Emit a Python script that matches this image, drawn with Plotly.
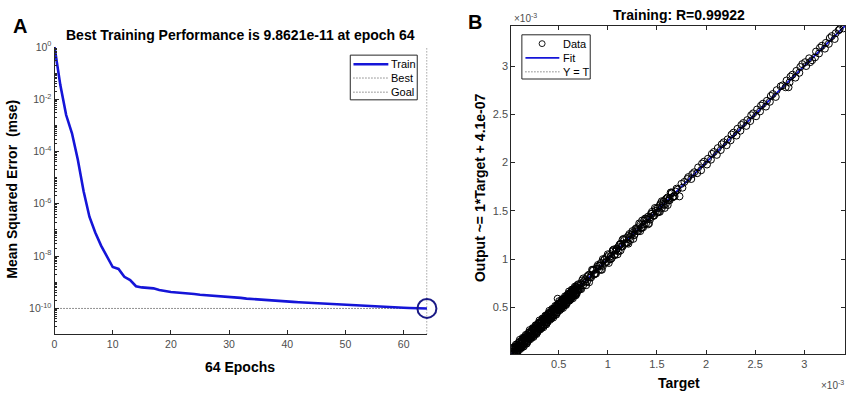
import plotly.graph_objects as go

W, H = 851, 396

# ---------------- Panel A data ----------------
epochs = list(range(65))
mse = [1.0, 3.5e-2, 2.5e-3, 5.0e-4, 5.0e-5, 3.0e-6, 3.2e-7, 8.0e-8, 2.5e-8, 1.0e-8,
       3.8e-9, 3.2e-9, 1.6e-9, 1.2e-9, 7.0e-10, 6.3e-10, 6.0e-10, 5.8e-10, 5.0e-10, 4.5e-10,
       4.2e-10, 4.0e-10, 3.9e-10, 3.7e-10, 3.5e-10, 3.3e-10, 3.2e-10, 3.1e-10, 3.0e-10, 2.9e-10,
       2.8e-10, 2.7e-10, 2.5e-10, 2.35e-10, 2.25e-10, 2.15e-10, 2.05e-10, 2.0e-10, 1.95e-10, 1.88e-10,
       1.82e-10, 1.76e-10, 1.7e-10, 1.65e-10, 1.6e-10, 1.55e-10, 1.5e-10, 1.46e-10, 1.42e-10, 1.38e-10,
       1.34e-10, 1.3e-10, 1.27e-10, 1.24e-10, 1.21e-10, 1.18e-10, 1.15e-10, 1.12e-10, 1.1e-10, 1.07e-10,
       1.05e-10, 1.03e-10, 1.01e-10, 0.995e-10, 9.8621e-11]
best_epoch = 64
best_perf = 9.8621e-11
a_yticks = [1e0, 1e-2, 1e-4, 1e-6, 1e-8, 1e-10]
a_yticktext = ["10<sup>0</sup>", "10<sup>-2</sup>", "10<sup>-4</sup>", "10<sup>-6</sup>",
               "10<sup>-8</sup>", "10<sup>-10</sup>"]
a_xticks = [0, 10, 20, 30, 40, 50, 60]

# ---------------- Panel B data (units of 1e-3) ----------------
target_low = [0.03, 0.04, 0.05, 0.06, 0.07, 0.08, 0.09, 0.10, 0.11, 0.12, 0.13, 0.14, 0.15, 0.16,
              0.17, 0.18, 0.19, 0.20, 0.21, 0.22, 0.23, 0.24, 0.25, 0.26, 0.27, 0.28, 0.29, 0.30,
              0.31, 0.32, 0.33, 0.34, 0.35, 0.36, 0.37, 0.38, 0.39, 0.40, 0.41, 0.42, 0.43, 0.44,
              0.45, 0.46, 0.47, 0.48, 0.49, 0.50, 0.51, 0.52, 0.53, 0.54, 0.55, 0.56, 0.57, 0.58,
              0.59, 0.60, 0.61, 0.62, 0.63, 0.64, 0.65, 0.66, 0.67, 0.68, 0.69, 0.70]
output_low_a = [0.06, 0.02, 0.09, 0.06, 0.04, 0.10, 0.13, 0.09, 0.07, 0.15, 0.16, 0.11, 0.18, 0.16,
                0.13, 0.20, 0.23, 0.18, 0.17, 0.25, 0.26, 0.21, 0.28, 0.26, 0.23, 0.31, 0.33, 0.28,
                0.27, 0.35, 0.36, 0.31, 0.38, 0.36, 0.33, 0.41, 0.43, 0.38, 0.37, 0.45, 0.46, 0.41,
                0.48, 0.46, 0.43, 0.51, 0.53, 0.48, 0.47, 0.55, 0.56, 0.51, 0.58, 0.56, 0.53, 0.61,
                0.63, 0.58, 0.57, 0.65, 0.66, 0.61, 0.68, 0.66, 0.63, 0.71, 0.73, 0.68]
output_low_b = [0.04, 0.08, 0.03, 0.08, 0.09, 0.05, 0.10, 0.14, 0.09, 0.12, 0.12, 0.18, 0.12, 0.19,
                0.18, 0.15, 0.19, 0.24, 0.20, 0.21, 0.22, 0.28, 0.22, 0.29, 0.28, 0.25, 0.29, 0.34,
                0.30, 0.31, 0.32, 0.38, 0.32, 0.39, 0.38, 0.35, 0.39, 0.44, 0.40, 0.41, 0.42, 0.48,
                0.42, 0.49, 0.48, 0.45, 0.49, 0.54, 0.50, 0.51, 0.52, 0.58, 0.52, 0.59, 0.58, 0.55,
                0.59, 0.64, 0.60, 0.61, 0.62, 0.68, 0.62, 0.69, 0.68, 0.65, 0.69, 0.74]
target_low2 = [0.035, 0.045, 0.055, 0.065, 0.075, 0.085, 0.095, 0.105, 0.115, 0.125, 0.135, 0.145,
               0.155, 0.165, 0.175, 0.185, 0.195, 0.205, 0.215, 0.225, 0.235, 0.245, 0.255, 0.265,
               0.275, 0.285, 0.295, 0.305, 0.315, 0.325, 0.335, 0.345, 0.355, 0.365, 0.375, 0.385,
               0.395, 0.405, 0.415, 0.425, 0.435, 0.445, 0.455, 0.465, 0.475, 0.485, 0.495, 0.505,
               0.515, 0.525, 0.535, 0.545, 0.555, 0.565, 0.575, 0.585, 0.595, 0.605, 0.615, 0.625,
               0.635, 0.645, 0.655, 0.665, 0.675, 0.685, 0.695]
output_low_c = [0.085, 0.020, 0.065, 0.045, 0.115, 0.045, 0.095, 0.165, 0.085, 0.145, 0.185, 0.095,
                0.165, 0.145, 0.215, 0.145, 0.195, 0.265, 0.185, 0.245, 0.285, 0.195, 0.265, 0.245,
                0.315, 0.245, 0.295, 0.365, 0.285, 0.345, 0.385, 0.295, 0.365, 0.345, 0.415, 0.345,
                0.395, 0.465, 0.385, 0.445, 0.485, 0.395, 0.465, 0.445, 0.515, 0.445, 0.495, 0.565,
                0.485, 0.545, 0.585, 0.495, 0.565, 0.545, 0.615, 0.545, 0.595, 0.665, 0.585, 0.645,
                0.685, 0.595, 0.665, 0.645, 0.715, 0.645, 0.695]
output_low_d = [0.025, 0.075, 0.045, 0.115, 0.025, 0.105, 0.075, 0.145, 0.125, 0.085, 0.105, 0.175,
                0.145, 0.215, 0.125, 0.205, 0.175, 0.245, 0.225, 0.185, 0.205, 0.275, 0.245, 0.315,
                0.225, 0.305, 0.275, 0.345, 0.325, 0.285, 0.305, 0.375, 0.345, 0.415, 0.325, 0.405,
                0.375, 0.445, 0.425, 0.385, 0.405, 0.475, 0.445, 0.515, 0.425, 0.505, 0.475, 0.545,
                0.525, 0.485, 0.505, 0.575, 0.545, 0.615, 0.525, 0.605, 0.575, 0.645, 0.625, 0.585,
                0.605, 0.675, 0.645, 0.715, 0.625, 0.705, 0.675]
target_mid = [0.49, 0.53, 0.55, 0.57, 0.59, 0.61, 0.63, 0.65, 0.67, 0.69, 0.71, 0.73, 0.75, 0.77,
              0.79, 0.81, 0.83, 0.85, 0.87, 0.89, 0.91, 0.93, 0.95, 0.97, 0.99, 1.01, 1.03, 1.05,
              1.07, 1.09, 1.11, 1.13, 1.15, 1.17, 1.19, 1.21, 1.23, 1.25, 1.27, 1.29, 1.31, 1.33,
              1.35, 1.37, 1.39, 1.41, 1.43, 1.45, 1.47, 1.49, 1.51, 1.53, 1.55, 1.57, 1.59, 1.61,
              1.63, 1.65, 1.67, 1.73, 1.71,
              0.72, 0.74, 0.76, 0.78, 0.80, 0.82, 0.84, 0.86, 0.88, 0.90, 0.92, 0.94, 0.96, 0.98,
              1.00, 1.02, 1.04, 1.06, 1.08, 1.10, 1.12, 1.14, 1.16, 1.18, 1.20, 1.22, 1.24, 1.26,
              1.28, 1.30, 1.32, 1.34, 1.36, 1.38, 1.40, 1.42, 1.44, 1.46, 1.48, 1.50, 1.52, 1.54,
              1.56, 1.58, 1.60, 1.62, 1.64, 1.66, 1.68, 1.70]
output_mid = [0.59, 0.55, 0.53, 0.59, 0.57, 0.63, 0.61, 0.67, 0.64, 0.71, 0.69, 0.75, 0.73, 0.79,
              0.77, 0.84, 0.81, 0.88, 0.85, 0.92, 0.89, 0.96, 0.93, 1.00, 0.97, 1.04, 1.00, 1.08,
              1.04, 1.11, 1.08, 1.16, 1.13, 1.20, 1.17, 1.24, 1.20, 1.27, 1.25, 1.32, 1.29, 1.36,
              1.33, 1.40, 1.37, 1.44, 1.41, 1.47, 1.45, 1.52, 1.49, 1.56, 1.53, 1.60, 1.57, 1.64,
              1.61, 1.68, 1.65, 1.65, 1.72,
              0.69, 0.78, 0.77, 0.73, 0.83, 0.81, 0.89, 0.84, 0.85, 0.94, 0.93, 0.89, 0.99, 0.97,
              1.05, 1.00, 1.01, 1.10, 1.09, 1.05, 1.15, 1.13, 1.21, 1.16, 1.17, 1.26, 1.25, 1.21,
              1.31, 1.29, 1.37, 1.32, 1.33, 1.42, 1.41, 1.37, 1.47, 1.45, 1.53, 1.48, 1.49, 1.58,
              1.57, 1.53, 1.63, 1.61, 1.69, 1.64, 1.65, 1.73]
target_mid2 = [0.71, 0.73, 0.75, 0.77, 0.79, 0.81, 0.83, 0.85, 0.87, 0.89, 0.91, 0.93, 0.95, 0.97,
               0.99, 1.01, 1.03, 1.05, 1.07, 1.09, 1.11, 1.13, 1.15, 1.17, 1.19, 1.21, 1.23, 1.25,
               1.27, 1.29, 1.31, 1.33, 1.35, 1.37, 1.39, 1.41, 1.43, 1.45, 1.47, 1.49, 1.51, 1.53,
               1.55, 1.57, 1.59, 1.61, 1.63, 1.65, 1.67, 1.69]
output_mid2 = [0.73, 0.69, 0.80, 0.76, 0.82, 0.76, 0.83, 0.89, 0.85, 0.90, 0.93, 0.89, 1.00, 0.96,
               1.02, 0.96, 1.03, 1.09, 1.05, 1.10, 1.13, 1.09, 1.20, 1.16, 1.22, 1.16, 1.23, 1.29,
               1.25, 1.30, 1.33, 1.29, 1.40, 1.36, 1.42, 1.36, 1.43, 1.49, 1.45, 1.50, 1.53, 1.49,
               1.60, 1.56, 1.62, 1.56, 1.63, 1.69, 1.65, 1.70]
target_high = [1.75, 1.78, 1.82, 1.85, 1.88, 1.92, 1.95, 1.98, 2.02, 2.05, 2.08, 2.12, 2.15, 2.18,
               2.22, 2.25, 2.28, 2.32, 2.35, 2.38, 2.42, 2.45, 2.48, 2.52, 2.55, 2.58, 2.62, 2.65,
               2.68, 2.72, 2.84, 2.78, 2.82, 2.85, 2.88, 2.92, 2.95, 2.98, 3.02, 3.05, 3.08, 3.12,
               3.15, 3.18, 3.22, 3.25, 3.28, 3.32, 3.36, 3.40,
               1.76, 1.81, 1.86, 1.91, 1.96, 2.01, 2.06, 2.11, 2.16, 2.21, 2.26, 2.31, 2.36, 2.41,
               2.46, 2.51, 2.56, 2.61, 2.66, 2.71, 2.76, 2.81, 2.86, 2.91, 2.96, 3.01, 3.06, 3.11,
               3.16, 3.21, 3.26, 3.31, 3.35]
output_high = [1.78, 1.80, 1.85, 1.83, 1.90, 1.95, 1.92, 2.01, 2.04, 2.03, 2.11, 2.15, 2.13, 2.21,
               2.24, 2.23, 2.31, 2.35, 2.33, 2.41, 2.44, 2.43, 2.51, 2.55, 2.53, 2.61, 2.64, 2.63,
               2.71, 2.75, 2.78, 2.80, 2.85, 2.83, 2.91, 2.95, 2.93, 3.02, 3.00, 3.08, 3.06, 3.15,
               3.13, 3.21, 3.24, 3.23, 3.31, 3.34, 3.38, 3.39,
               1.74, 1.83, 1.88, 1.89, 1.99, 1.98, 2.09, 2.08, 2.19, 2.18, 2.29, 2.28, 2.39, 2.38,
               2.49, 2.48, 2.59, 2.58, 2.69, 2.68, 2.79, 2.78, 2.89, 2.88, 2.99, 3.04, 3.04, 3.09,
               3.19, 3.18, 3.29, 3.28, 3.37]
fit_slope = 1.0
fit_offset = 4.1e-7 * 1e3   # in units of 1e-3
b_range = [0.017, 3.415]
b_ticks = [0.5, 1, 1.5, 2, 2.5, 3]
b_ticktext = ["0.5", "1", "1.5", "2", "2.5", "3"]

# ---------------- figure ----------------
AX = "#262626"
TK = "#4d4d4d"
FONT = "Liberation Sans"
BLUE = "#1515d8"

fig = go.Figure()

# Panel A traces
fig.add_trace(go.Scatter(x=[best_epoch, best_epoch], y=[1e-11, 1], mode="lines", name="Best",
                         line=dict(color="#555555", width=1, dash="1px,2px"),
                         xaxis="x", yaxis="y", showlegend=False))
fig.add_trace(go.Scatter(x=[0, best_epoch], y=[best_perf, best_perf], mode="lines", name="Goal",
                         line=dict(color="#222222", width=1, dash="1px,2px"),
                         xaxis="x", yaxis="y", showlegend=False))
fig.add_trace(go.Scatter(x=epochs, y=mse, mode="lines", name="Train",
                         line=dict(color=BLUE, width=2.6),
                         xaxis="x", yaxis="y", showlegend=False))
fig.add_trace(go.Scatter(x=[best_epoch], y=[best_perf], mode="markers", showlegend=False,
                         marker=dict(symbol="circle-open", size=19,
                                     line=dict(color="#1a1a86", width=2), color="#1a1a86"),
                         cliponaxis=False, xaxis="x", yaxis="y"))

# Panel B traces
fit_x = [b_range[0], b_range[1]]
fit_y = [fit_slope * v + fit_offset for v in fit_x]
fig.add_trace(go.Scatter(x=fit_x, y=fit_x, mode="lines", name="Y = T",
                         line=dict(color="#555555", width=1, dash="1px,2px"),
                         xaxis="x2", yaxis="y2", showlegend=False))
fig.add_trace(go.Scatter(x=fit_x, y=fit_y, mode="lines", name="Fit",
                         line=dict(color=BLUE, width=1.8),
                         xaxis="x2", yaxis="y2", showlegend=False))
for tx, oy in [(target_low, output_low_a), (target_low, output_low_b),
               (target_low2, output_low_c), (target_low2, output_low_d),
               (target_mid, output_mid), (target_mid2, output_mid2),
               (target_high, output_high)]:
    fig.add_trace(go.Scatter(x=tx, y=oy, mode="markers", name="Data",
                             marker=dict(symbol="circle-open", size=7,
                                         line=dict(color="black", width=1), color="black"),
                             xaxis="x2", yaxis="y2", showlegend=False))


def px(x):
    return x / W


def py(y):
    return 1 - y / H


tickfont_a = dict(family=FONT, size=10.5, color=TK)
tickfont_b = dict(family=FONT, size=11, color=TK)

fig.update_layout(
    width=W, height=H, margin=dict(l=0, r=0, t=0, b=0),
    paper_bgcolor="white", plot_bgcolor="white",
    font=dict(family=FONT, color="black"),
    showlegend=False,
    xaxis=dict(domain=[px(51.7), px(426)], range=[0, 64.1], tickvals=a_xticks,
               ticks="inside", ticklen=4, tickcolor=AX, showline=True, linecolor=AX,
               linewidth=1, showgrid=False, zeroline=False, tickfont=tickfont_a, anchor="y"),
    yaxis=dict(domain=[py(333.3), py(40.5)], type="log", range=[-11, 0.01],
               tickvals=a_yticks, ticktext=a_yticktext, ticks="inside", ticklen=4,
               tickcolor=AX, showline=True, linecolor=AX, linewidth=1, showgrid=False,
               zeroline=False, tickfont=tickfont_a, anchor="x",
               minor=dict(ticks="inside", ticklen=2, tickcolor=AX, dtick="D1", showgrid=False)),
    xaxis2=dict(domain=[px(510), px(845)], range=b_range, tickvals=b_ticks,
                ticktext=b_ticktext, ticks="inside", ticklen=4, tickcolor=AX,
                showline=True, linecolor=AX, linewidth=1, mirror="ticks", showgrid=False,
                zeroline=False, tickfont=tickfont_b, anchor="y2"),
    yaxis2=dict(domain=[py(353.3), py(19.3)], range=b_range, tickvals=b_ticks,
                ticktext=b_ticktext, ticks="inside", ticklen=4, tickcolor=AX,
                showline=True, linecolor=AX, linewidth=1, mirror="ticks", showgrid=False,
                zeroline=False, tickfont=tickfont_b, anchor="x2"),
)

ann = []
shapes = []


def add(text, x, y, size, bold=True, xanchor="center", yanchor="middle", angle=0, color="black"):
    t = f"<b>{text}</b>" if bold else text
    ann.append(dict(text=t, x=px(x), y=py(y), xref="paper", yref="paper", showarrow=False,
                    xanchor=xanchor, yanchor=yanchor, textangle=angle,
                    font=dict(family=FONT, size=size, color=color)))


def seg(x0, x1, y, color, width, dash="solid"):
    shapes.append(dict(type="line", xref="paper", yref="paper", x0=px(x0), x1=px(x1),
                       y0=py(y), y1=py(y), line=dict(color=color, width=width, dash=dash)))


def box(x0, x1, y0, y1):
    shapes.append(dict(type="rect", xref="paper", yref="paper", x0=px(x0), x1=px(x1),
                       y0=py(y1), y1=py(y0), line=dict(color=AX, width=1), fillcolor="white",
                       layer="above"))


add("A", 17, 19, 20)
add("B", 474, 15, 20)
add("Best Training Performance is 9.8621e-11 at epoch 64", 238, 29, 14)
add("Training: R=0.99922", 678, 8, 14)
add("64 Epochs", 238, 366, 14)
add("Mean Squared Error\u00a0\u00a0(mse)", 9, 185, 14, angle=-90)
add("Output ~= 1*Target + 4.1e-07", 478, 184, 14, angle=-90)
add("Target", 678, 383, 14)
add("\u00d710<sup>-3</sup>", 511, 11, 10, bold=False, xanchor="left", color=TK)
add("\u00d710<sup>-3</sup>", 846, 385, 10, bold=False, xanchor="right", color=TK)

# Legend A (Train / Best / Goal)
box(348.5, 415.7, 49, 94.5)
seg(351.7, 386.7, 58.3, BLUE, 2.6)
seg(351.7, 386.7, 72.3, "#444444", 1, "1px,2px")
seg(351.7, 386.7, 86.7, "#444444", 1, "1px,2px")
for lbl, yy in [("Train", 58.3), ("Best", 72.3), ("Goal", 86.7)]:
    add(lbl, 387.5, yy, 11, bold=False, xanchor="left")

# Legend B (Data / Fit / Y = T)
box(520.7, 589.3, 28.3, 73.3)
shapes.append(dict(type="circle", xref="paper", yref="paper", x0=px(538), x1=px(544),
                   y0=py(40.3), y1=py(34.3), line=dict(color="black", width=0.9)))
seg(524.3, 558.3, 51.7, BLUE, 1.8)
seg(524.3, 558.3, 66, "#444444", 1, "1px,2px")
for lbl, yy in [("Data", 37.3), ("Fit", 51.7), ("Y = T", 66)]:
    add(lbl, 559.5, yy, 11, bold=False, xanchor="left")

fig.update_layout(annotations=ann, shapes=shapes)

fig.write_html("out.html", config={"displayModeBar": False},
               post_script="document.body.style.margin='0px';document.body.style.padding='0px';")
